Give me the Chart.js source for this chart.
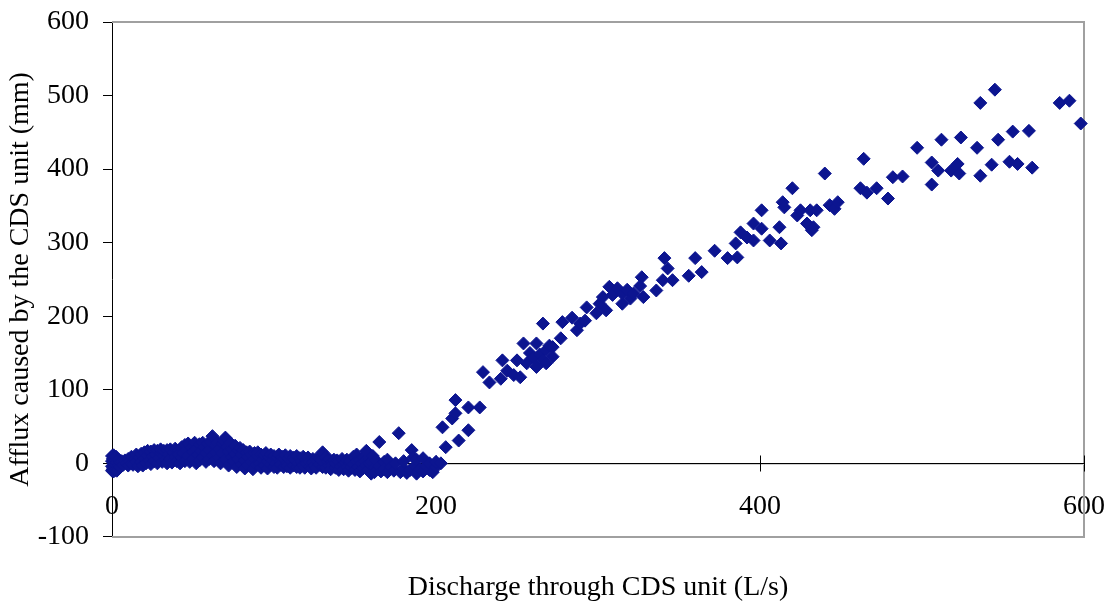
<!DOCTYPE html>
<html lang="en">
<head>
   <meta charset="UTF-8">
   <title>Afflux vs discharge - CDS unit</title>
   <script src="https://cdn.jsdelivr.net/npm/chart.js"></script>
   <style>
       body, html {
           margin: 0;
           padding: 0;
           background-color: #ffffff;
       }

       .chart-box {
           width: 1107px;
           height: 606px;
       }
   </style>
</head>
<body>

   <div class="chart-box">
       <canvas id="afflux-chart" width="1107" height="606"></canvas>
   </div>

   <script>
    // measured points: discharge Q (L/s) and afflux H (mm)
    // low flows, the unit passes water with almost no afflux
    const lowQ = [
        0,0,0,0,0.5,0.5,1,1,1,1.5,1.5,2,2,2.5,2.5,3,3,
        4,4,5,5,6,7,8,9,10,10,11,12,12,13,14,15,15,16,17,18,18,19,
        20,20,21,22,22,23,24,24,25,26,26,27,28,28,29,30,30,31,32,32,33,34,34,35,36,36,37,38,39,39,
        40,41,41,42,43,43,44,45,45,46,47,47,48,49,50,50,51,52,52,53,54,54,55,56,56,57,58,58,59,
        60,60,61,62,62,63,64,64,65,66,66,67,68,68,69,70,70,71,72,72,73,74,74,75,76,76,77,78,78,79,
        80,80,81,82,82,83,84,84,85,86,86,87,88,88,89,90,90,91,92,92,93,94,94,95,96,96,97,98,98,99,
        100,100,101,102,102,103,104,104,105,106,106,107,108,108,109,110,110,111,112,112,113,114,114,115,116,116,117,118,118,119,
        120,120,121,122,122,123,124,124,125,126,126,127,128,128,129,130,130,131,132,132,133,134,134,135,136,136,137,138,138,139,
        140,140,141,142,143,143,144,145,145,146,147,147,148,149,149,150,151,151,152,153,153,154,155,155,156,157,157,158,159,159,160,160,161,162,162,163,
        165,165,166,168,168,170,170,172,174,175,177,178,180,180,182,184,185,186,187,188,188,190,192,192,194,196,196,198,200,200,203
    ];
    const lowH = [
        10,3,-4,-10,6,-8,11,0,-11,8,-6,4,-9,9,-2,1,-10,
        5,-3,-5,2,3,-2,4,0,6,-3,3,9,0,-2,6,12,2,-4,8,13,2,-3,
        15,7,0,11,17,4,16,-1,9,18,3,12,0,17,7,14,19,2,10,17,5,18,0,12,6,19,1,15,9,20,
        3,17,12,0,22,8,14,25,3,18,10,27,2,22,15,6,28,0,20,11,26,4,17,28,8,22,2,14,27,
        18,6,29,37,11,3,24,15,28,8,20,0,27,14,31,35,5,22,-3,16,28,9,20,2,24,13,-5,17,6,21,
        -2,12,18,4,-7,15,9,-3,16,2,12,-8,14,6,-2,10,15,0,-6,12,5,11,-3,14,2,-7,9,12,-2,4,
        -5,10,0,8,-6,12,3,-2,9,-5,6,11,0,-4,7,10,-6,2,-3,8,5,-5,10,0,7,-6,3,-2,9,-6,
        5,0,8,-4,3,-7,6,1,-3,6,-6,2,7,-2,5,15,-5,0,8,-6,3,-3,6,-8,2,-2,5,-6,0,4,
        -9,2,-4,6,-2,-8,1,-5,5,-10,0,3,-6,9,-2,-9,12,2,-5,5,-11,0,8,-7,3,17,-3,-9,6,0,-14,2,10,-6,-12,4,
        29,-4,-11,2,-8,-12,5,-5,-10,0,41,-12,-7,3,-13,-9,18,8,-4,-14,5,-8,7,-11,-4,-9,0,-12,-5,2,0
    ];

    // higher flows, afflux rises with discharge
    const riseQ = [
        204,206,210,212,212,214,220,220,227,229,
        233,240,241,244,248,250,252,254,256,258,
        260,262,262,264,266,266,268,268,270,272,
        272,277,278,284,287,289,292,293,299,301,
        303,305,307,309,312,315,315,318,320,322,
        326,327,328,336,340,341,343,346,356,360,
        364,372,380,385,386,388,392,396,396,401,
        401,406,412,413,414,415,420,423,425,429,
        431,432,433,435,440,443,446,448,462,464,
        466,472,479,482,488,497,506,506,510,512,
        518,522,523,524,534,536,536,543,545,547,
        554,556,559,566,568,585,591,598
    ];
    const riseH = [
        49,22,61,68,86,31,45,76,76,124,
        110,115,140,126,120,140,117,163,136,150,
        144,131,163,148,140,190,154,136,160,158,
        145,170,192,198,181,190,194,212,204,217,
        226,208,240,229,238,217,231,236,224,231,
        241,253,226,235,249,279,265,249,255,279,
        260,289,279,299,280,314,307,303,326,344,
        319,303,321,299,355,348,374,337,344,326,
        344,317,321,344,394,351,346,355,374,414,
        368,374,360,389,390,429,409,379,398,440,
        398,407,394,443,429,490,391,406,508,440,
        410,451,407,452,402,490,493,462
    ];

    const xTicks = [0, 200, 400, 600];
    const yMin = -100, yMax = 600, yStep = 100;

    const discharge = lowQ.concat(riseQ);
    const afflux = lowH.concat(riseH);
    const points = discharge.map((q, i) => ({ x: q, y: afflux[i] }));

    Chart.defaults.font.family = "'Liberation Serif', 'Times New Roman', serif";
    Chart.defaults.font.size = 28;
    Chart.defaults.color = '#000';

    // grey frame + x axis drawn through zero with crossing ticks
    const axisLines = {
        id: 'axisLines',
        beforeDatasetsDraw(chart) {
            const { ctx, chartArea: a, scales: { x, y } } = chart;
            ctx.save();
            ctx.strokeStyle = '#a0a0a0';
            ctx.lineWidth = 2;
            ctx.beginPath();
            ctx.moveTo(a.left, a.top);
            ctx.lineTo(a.right, a.top);
            ctx.lineTo(a.right, a.bottom);
            ctx.lineTo(a.left, a.bottom);
            ctx.stroke();

            const y0 = Math.round(y.getPixelForValue(0)) + 0.5;
            ctx.strokeStyle = '#d0d0d0';
            ctx.lineWidth = 1;
            ctx.beginPath();
            ctx.moveTo(a.left, y0 + 1);
            ctx.lineTo(a.right, y0 + 1);
            ctx.stroke();

            ctx.strokeStyle = '#000';
            ctx.beginPath();
            ctx.moveTo(a.left, y0);
            ctx.lineTo(a.right, y0);
            xTicks.forEach(v => {
                const px = Math.round(x.getPixelForValue(v)) + 0.5;
                ctx.moveTo(px, y0 - 8);
                ctx.lineTo(px, y0 + 8);
            });
            ctx.stroke();
            ctx.restore();
        }
    };

    new Chart(document.getElementById('afflux-chart'), {
        type: 'scatter',
        data: {
            datasets: [{
                data: points,
                pointStyle: 'rectRot',
                radius: 6.5,
                borderWidth: 1,
                backgroundColor: '#0c1590',
                borderColor: '#0c1590',
                clip: false
            }]
        },
        options: {
            responsive: false,
            animation: false,
            devicePixelRatio: 1,
            layout: { padding: { top: 22, right: 23, bottom: 0, left: 0 } },
            plugins: {
                legend: { display: false },
                tooltip: { enabled: false },
                title: {
                    display: true,
                    position: 'bottom',
                    fullSize: false,
                    text: 'Discharge through CDS unit (L/s)',
                    font: { size: 28, weight: 'normal' },
                    color: '#000',
                    padding: { top: 34, bottom: 1.5 }
                }
            },
            scales: {
                x: {
                    type: 'linear',
                    position: { y: 0 },
                    min: 0,
                    max: 600,
                    afterBuildTicks: (scale) => { scale.ticks = xTicks.map(v => ({ value: v })); },
                    ticks: { padding: 26, maxRotation: 0 },
                    grid: { display: false, drawTicks: false },
                    border: { display: false },
                    afterFit: (scale) => { scale.paddingLeft = 0; scale.paddingRight = 0; }
                },
                y: {
                    min: yMin,
                    max: yMax,
                    ticks: { stepSize: yStep, padding: 14 },
                    grid: { drawOnChartArea: false, drawTicks: true, tickLength: 9, color: '#000' },
                    border: { display: true, color: '#000', width: 1 },
                    title: {
                        display: true,
                        text: 'Afflux caused by the CDS unit (mm)',
                        padding: { top: 4, bottom: 0 }
                    },
                    afterFit: (scale) => {
                        scale.width = 112;
                        scale.paddingTop = 0;
                        scale.paddingBottom = 0;
                    }
                }
            }
        },
        plugins: [axisLines]
    });
   </script>
</body>
</html>
